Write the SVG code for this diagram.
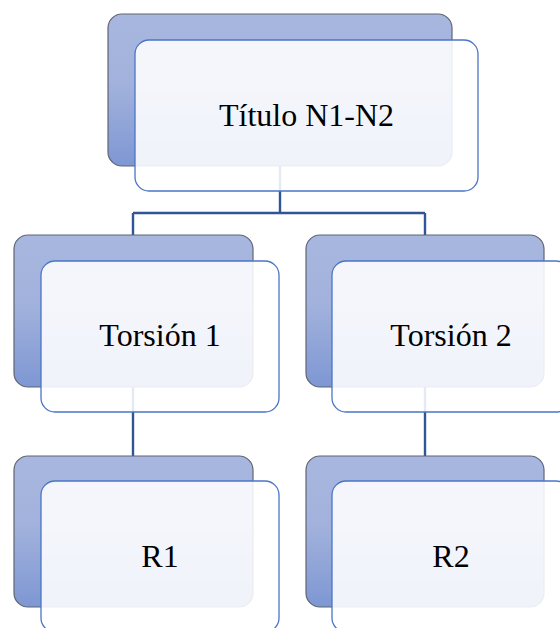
<svg xmlns="http://www.w3.org/2000/svg" width="560" height="628" viewBox="0 0 560 628">
<defs>
<linearGradient id="bg" x1="0" y1="0" x2="0" y2="1">
<stop offset="0" stop-color="#a8b7df"/>
<stop offset="0.45" stop-color="#a2b2dc"/>
<stop offset="1" stop-color="#7e97d3"/>
</linearGradient>
<style>
.back{fill:url(#bg);stroke:#5f6573;stroke-width:1.2}
.front{fill:#ffffff;fill-opacity:0.88;stroke:#4a76c6;stroke-width:1.3}
.lbl{font-family:"Liberation Serif","Times New Roman",serif;font-size:32px;fill:#000;text-anchor:middle}
.conn{fill:none;stroke:#2f5597;stroke-width:2.4}
</style>
</defs>
<rect width="560" height="628" fill="#ffffff"/>
<g id="connectors">
<path class="conn" d="M280,166 V213 M133,213 H425 M133,213 V235 M425,213 V235"/>
<path class="conn" d="M133,387 V456"/>
<path class="conn" d="M425,387 V456"/>
</g>
<g id="node-titulo">
<rect class="back" x="108" y="14" width="344" height="152" rx="14"/>
<rect class="front" x="135" y="40" width="343" height="151" rx="14"/>
<text class="lbl" x="306.5" y="126">Título N1-N2</text>
</g>
<g id="node-torsion1">
<rect class="back" x="14" y="235" width="239" height="152" rx="14"/>
<rect class="front" x="41" y="261" width="238" height="151" rx="14"/>
<text class="lbl" x="160" y="346">Torsión 1</text>
</g>
<g id="node-torsion2">
<rect class="back" x="306" y="235" width="238" height="152" rx="14"/>
<rect class="front" x="332" y="261" width="238" height="151" rx="14"/>
<text class="lbl" x="451" y="346">Torsión 2</text>
</g>
<g id="node-r1">
<rect class="back" x="14" y="456" width="239" height="151" rx="14"/>
<rect class="front" x="41" y="481" width="238" height="151" rx="14"/>
<text class="lbl" x="160" y="567">R1</text>
</g>
<g id="node-r2">
<rect class="back" x="306" y="456" width="238" height="151" rx="14"/>
<rect class="front" x="332" y="481" width="238" height="151" rx="14"/>
<text class="lbl" x="451" y="567">R2</text>
</g>
</svg>
